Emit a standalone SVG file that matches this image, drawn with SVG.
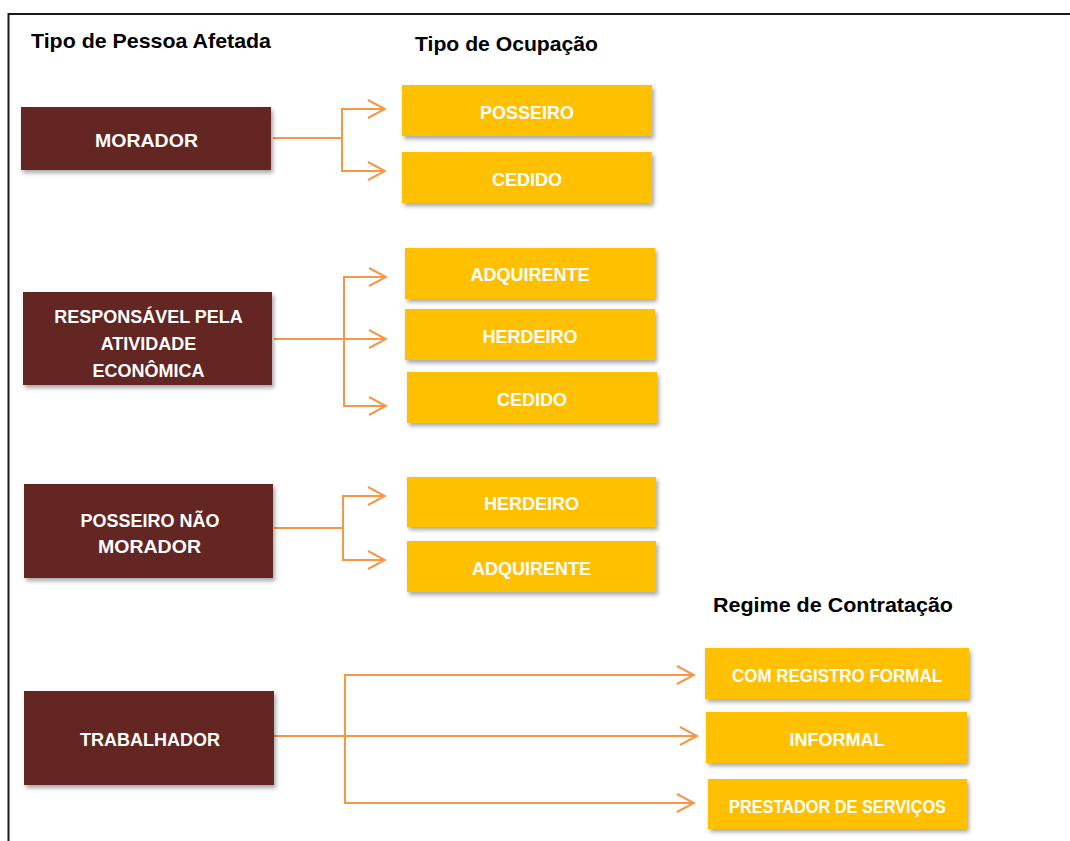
<svg xmlns="http://www.w3.org/2000/svg" width="1070" height="841" viewBox="0 0 1070 841">
<defs>
<filter id="sh" x="-10%" y="-20%" width="130%" height="160%">
<feDropShadow dx="2" dy="3" stdDeviation="2" flood-color="#000" flood-opacity="0.35"/>
</filter>
<marker id="arr" viewBox="0 0 20 20" refX="18" refY="10" markerWidth="20" markerHeight="20" markerUnits="userSpaceOnUse" orient="auto">
<path d="M1,1 L18,10 L1,19" fill="none" stroke="#F79646" stroke-width="2"/>
</marker>
<style>
.hdr{font-family:"Liberation Sans",Arial,sans-serif;font-weight:bold;font-size:21px;fill:#000}
.dark{fill:#632523;filter:url(#sh)}
.yel{fill:#FFC000;filter:url(#sh)}
.t{font-family:"Liberation Sans",Arial,sans-serif;font-weight:bold;font-size:18px;fill:#fff;text-anchor:middle}
.c{fill:none;stroke:#F79646;stroke-width:2}
.ca{fill:none;stroke:#F79646;stroke-width:2;marker-end:url(#arr)}
</style>
</defs>
<rect width="1070" height="841" fill="#fff"/>
<g id="frame">
<path d="M8.5,841 V14 H1070" fill="none" stroke="#1a1a1a" stroke-width="2"/>
</g>
<g id="headers">
<text class="hdr" x="31" y="48" textLength="240" lengthAdjust="spacingAndGlyphs">Tipo de Pessoa Afetada</text>
<text class="hdr" x="415" y="51" textLength="183" lengthAdjust="spacingAndGlyphs">Tipo de Ocupação</text>
<text class="hdr" x="713" y="612" textLength="240" lengthAdjust="spacingAndGlyphs">Regime de Contratação</text>
</g>
<g id="connectors">
<path class="c" d="M273,138 H342"/>
<path class="ca" d="M342,138 V109 H385"/>
<path class="ca" d="M342,138 V171 H385"/>
<path class="c" d="M274,339 H344"/>
<path class="ca" d="M344,339 V277 H386"/>
<path class="ca" d="M344,339 H386"/>
<path class="ca" d="M344,339 V406 H386"/>
<path class="c" d="M274,528 H343"/>
<path class="ca" d="M343,528 V496 H385"/>
<path class="ca" d="M343,528 V560 H385"/>
<path class="c" d="M274,736 H344"/>
<path class="ca" d="M345,736 V675 H694"/>
<path class="ca" d="M345,736 H697"/>
<path class="ca" d="M345,736 V803 H694"/>
</g>
<g id="morador">
<rect class="dark" x="21" y="107" width="250" height="63"/>
<text class="t" x="146.5" y="147" textLength="103" lengthAdjust="spacingAndGlyphs">MORADOR</text>
</g>
<g id="responsavel">
<rect class="dark" x="23" y="292" width="249" height="93"/>
<text class="t" x="148.5" y="323">RESPONSÁVEL PELA</text>
<text class="t" x="148.5" y="350">ATIVIDADE</text>
<text class="t" x="148.5" y="377">ECONÔMICA</text>
</g>
<g id="posseiro-nao-morador">
<rect class="dark" x="24" y="484" width="249" height="94"/>
<text class="t" x="150" y="527">POSSEIRO NÃO</text>
<text class="t" x="149.5" y="553" textLength="103" lengthAdjust="spacingAndGlyphs">MORADOR</text>
</g>
<g id="trabalhador">
<rect class="dark" x="24" y="691" width="250" height="94"/>
<text class="t" x="150" y="746">TRABALHADOR</text>
</g>
<g id="posseiro">
<rect class="yel" x="402" y="85" width="250" height="51"/>
<text class="t" x="527" y="119">POSSEIRO</text>
</g>
<g id="cedido1">
<rect class="yel" x="402" y="152" width="250" height="51"/>
<text class="t" x="527" y="186">CEDIDO</text>
</g>
<g id="adquirente1">
<rect class="yel" x="405" y="248" width="250" height="51"/>
<text class="t" x="530" y="281">ADQUIRENTE</text>
</g>
<g id="herdeiro1">
<rect class="yel" x="405" y="309" width="250" height="51"/>
<text class="t" x="530" y="343">HERDEIRO</text>
</g>
<g id="cedido2">
<rect class="yel" x="407" y="372" width="250" height="51"/>
<text class="t" x="532" y="406">CEDIDO</text>
</g>
<g id="herdeiro2">
<rect class="yel" x="407" y="477" width="249" height="50"/>
<text class="t" x="531.5" y="510">HERDEIRO</text>
</g>
<g id="adquirente2">
<rect class="yel" x="407" y="541" width="249" height="51"/>
<text class="t" x="531.5" y="575">ADQUIRENTE</text>
</g>
<g id="com-registro">
<rect class="yel" x="705" y="648" width="264" height="51"/>
<text class="t" x="837" y="682" textLength="210" lengthAdjust="spacingAndGlyphs">COM REGISTRO FORMAL</text>
</g>
<g id="informal">
<rect class="yel" x="706" y="712" width="261" height="51"/>
<text class="t" x="837" y="746">INFORMAL</text>
</g>
<g id="prestador">
<rect class="yel" x="708" y="779" width="259" height="50"/>
<text class="t" x="837.5" y="813" textLength="217" lengthAdjust="spacingAndGlyphs">PRESTADOR DE SERVIÇOS</text>
</g>
</svg>
